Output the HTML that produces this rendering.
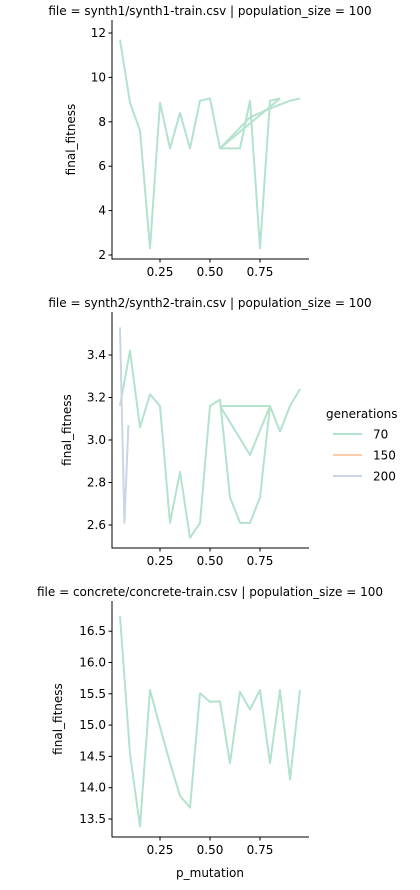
<!DOCTYPE html>
<html><head><meta charset="utf-8"><style>
body{margin:0;background:#fff;}
svg{display:block;font-family:"DejaVu Sans","Liberation Sans",sans-serif;}
</style></head><body>
<svg id="fig" width="420" height="890"></svg>
<script>
// Panel 1 data (synth1)
const p1xA=[0.05,0.1,0.15,0.2,0.25,0.3,0.35,0.4,0.45,0.5,0.55,0.6,0.65,0.7,0.75,0.8,0.85];
const p1yA=[11.7,8.86,7.6,2.3,8.86,6.8,8.4,6.8,8.95,9.05,6.8,6.8,6.8,8.95,2.3,8.95,9.05];
const p1xB=[0.55,0.7,0.8,0.9,0.95];
const p1yB=[6.8,8.2,8.6,8.95,9.05];
const p1xC=[0.55,0.75,0.85];
const p1yC=[6.8,8.3,9.05];
const p1Ticks=[2,4,6,8,10,12];
// Panel 2 data (synth2)
const p2xA=[0.05,0.1,0.15,0.2,0.25,0.3,0.35,0.4,0.45,0.5,0.55,0.6,0.65,0.7,0.75,0.8,0.85,0.9,0.95];
const p2yA=[3.16,3.42,3.06,3.215,3.16,2.61,2.85,2.54,2.61,3.16,3.19,2.73,2.61,2.61,2.73,3.16,3.04,3.16,3.24];
const p2xB=[0.55,0.8];
const p2yB=[3.16,3.16];
const p2xC=[0.55,0.7,0.8];
const p2yC=[3.16,2.93,3.16];
const p2xBlue=[0.05,0.072,0.092];
const p2yBlue=[3.53,2.61,3.07];
const p2Ticks=[2.6,2.8,3.0,3.2,3.4];
// Panel 3 data (concrete)
const p3x=[0.05,0.1,0.15,0.2,0.25,0.3,0.35,0.4,0.45,0.5,0.55,0.6,0.65,0.7,0.75,0.8,0.85,0.9,0.95];
const p3y=[16.74,14.54,13.38,15.56,14.97,14.4,13.87,13.68,15.51,15.37,15.38,14.39,15.53,15.25,15.56,14.39,15.56,14.13,15.56];
const p3Ticks=[13.5,14.0,14.5,15.0,15.5,16.0,16.5];
const xTicks=[0.25,0.5,0.75];
const xTickLabels=["0.25","0.50","0.75"];
const titles=["file = synth1/synth1-train.csv | population_size = 100","file = synth2/synth2-train.csv | population_size = 100","file = concrete/concrete-train.csv | population_size = 100"];
const legendLabels=["70","150","200"];
const colors=["#b3e2cd","#fdcdac","#cbd5e8"];

const svg=document.getElementById('fig');
const NS="http://www.w3.org/2000/svg";
function mk(t,a,txt){const e=document.createElementNS(NS,t);for(const k in a)e.setAttribute(k,a[k]);if(txt!==undefined)e.textContent=txt;svg.appendChild(e);return e;}
const X=v=>110+200*v;

function panel(i,top,bot,y0px,y0v,pxPer,ticks,fmt,series,ylabX){
  const Y=v=>y0px-(v-y0v)*pxPer;
  let t=mk('text',{x:210,y:top-5,'font-size':12,'text-anchor':'middle'},titles[i]);
  
  
  series.forEach((s,si)=>{
    const d=s.x.map((v,k)=>(k?'L':'M')+X(v).toFixed(1)+','+Y(s.y[k]).toFixed(1)).join('');
    const p=mk('path',{d:d,fill:'none',stroke:s.c,'stroke-width':2,'stroke-linejoin':'round'});
    
    
  });
  let a=mk('path',{d:`M112,${top}V${bot}H309`,fill:'none',stroke:'#000','stroke-width':1});
  
  
  ticks.forEach(v=>{
    const y=Y(v);
    mk('line',{x1:108.5,x2:112,y1:y,y2:y,stroke:'#000'});
    const l=mk('text',{x:106,y:y+4,'font-size':12,'text-anchor':'end'},fmt(v));
    
    
  });
  xTicks.forEach((v,k)=>{
    mk('line',{x1:X(v),x2:X(v),y1:bot,y2:bot+3.5,stroke:'#000'});
    const l=mk('text',{x:X(v),y:bot+17,'font-size':12,'text-anchor':'middle'},xTickLabels[k]);
    
    
  });
  const yl=mk('text',{x:ylabX,y:(top+bot)/2,'font-size':12,'text-anchor':'middle',transform:`rotate(-90 ${ylabX} ${(top+bot)/2})`},'final_fitness');
  
  
}
panel(0,20,259,255,2,22.2,p1Ticks,v=>String(v),
 [{x:p1xA,y:p1yA,c:colors[0]},{x:p1xB,y:p1yB,c:colors[0]},{x:p1xC,y:p1yC,c:colors[0]}],75);
panel(1,312,548,525,2.6,212.5,p2Ticks,v=>v.toFixed(1),
 [{x:p2xA,y:p2yA,c:colors[0]},{x:p2xB,y:p2yB,c:colors[0]},{x:p2xC,y:p2yC,c:colors[0]},{x:p2xBlue,y:p2yBlue,c:colors[2]}],71);
panel(2,601,837,819,13.5,62.6,p3Ticks,v=>v.toFixed(1),
 [{x:p3x,y:p3y,c:colors[0]}],62);
const xl=mk('text',{x:210,y:877,'font-size':12,'text-anchor':'middle'},'p_mutation');


const lt=mk('text',{x:326,y:418,'font-size':12},'generations');


legendLabels.forEach((lab,k)=>{
  const y=434+21*k;
  const ln=mk('line',{x1:333,x2:362,y1:y,y2:y,stroke:colors[k],'stroke-width':2});
  
  
  const tx=mk('text',{x:373,y:y+4.5,'font-size':12},lab);
  
  
});
</script>
</body></html>
